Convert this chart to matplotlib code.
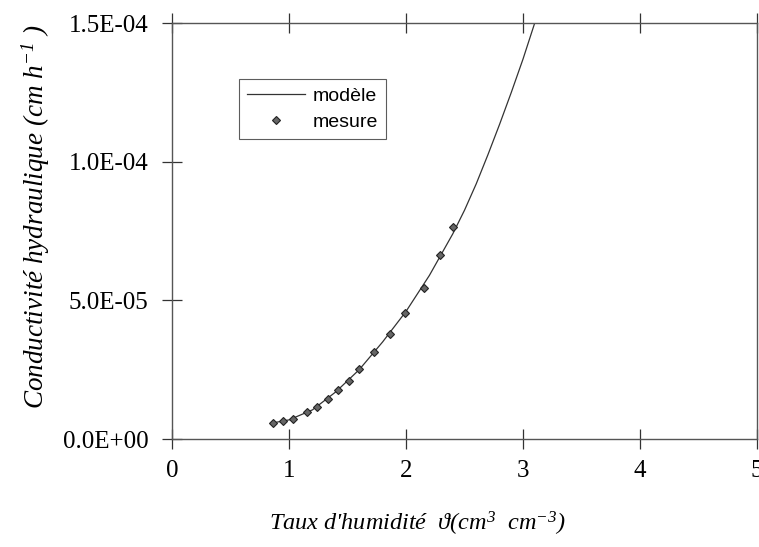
import matplotlib
matplotlib.use("Agg")
import matplotlib.pyplot as plt
from matplotlib.ticker import FuncFormatter

# measured points (theta, K)
theta_mes = [0.86, 0.95, 1.03, 1.15, 1.24, 1.33, 1.42, 1.51, 1.60, 1.73, 1.86, 1.99, 2.15, 2.29, 2.40]
k_mes = [5.8e-6, 6.5e-6, 7.2e-6, 9.7e-6, 1.15e-5, 1.44e-5, 1.77e-5, 2.09e-5, 2.52e-5,
         3.14e-5, 3.79e-5, 4.54e-5, 5.44e-5, 6.63e-5, 7.64e-5]

# model curve
theta_mod = [0.86, 1.0, 1.2, 1.4, 1.6, 1.8, 2.0, 2.2, 2.4, 2.5, 2.6, 2.7, 2.8, 2.9, 3.0, 3.1]
k_mod = [5.8e-6, 6.9e-6, 1.05e-5, 1.7e-5, 2.5e-5, 3.5e-5, 4.6e-5, 5.9e-5, 7.4e-5, 8.25e-5,
         9.2e-5, 1.025e-4, 1.135e-4, 1.25e-4, 1.37e-4, 1.5e-4]

x_ticks = [0, 1, 2, 3, 4, 5]
y_ticks = [0.0, 5e-5, 1e-4, 1.5e-4]

plt.rcParams["mathtext.fontset"] = "custom"
plt.rcParams["mathtext.rm"] = "Liberation Serif:italic"
plt.rcParams["mathtext.it"] = "Liberation Serif:italic"

serif = ["Liberation Serif", "DejaVu Serif"]

fig = plt.figure(figsize=(7.59, 5.47), dpi=100, facecolor="white")
ax = fig.add_axes([0.2266, 0.1974, 0.7708, 0.7605])

ax.plot(theta_mod, k_mod, color="#333333", linewidth=0.9, label="modèle", zorder=2)
ax.plot(theta_mes, k_mes, linestyle="none", marker="D", markersize=4.5,
        markerfacecolor="#666666", markeredgecolor="#222222", markeredgewidth=0.8,
        label="mesure", zorder=3)

ax.set_xlim(0, 5)
ax.set_ylim(0, 1.5e-4)
ax.set_xticks(x_ticks)
ax.set_yticks(y_ticks)
ax.yaxis.set_major_formatter(FuncFormatter(lambda v, _p: f"{v:.1E}"))

for lbl in ax.get_xticklabels() + ax.get_yticklabels():
    lbl.set_fontfamily(serif)
    lbl.set_fontsize(18)

ax.tick_params(axis="x", direction="inout", length=14, width=0.9, pad=8, top=True, color="#333333")
ax.tick_params(axis="y", direction="inout", length=14, width=0.9, pad=10, color="#333333")
for side in ["top", "bottom", "left", "right"]:
    ax.spines[side].set_color("#555555")
    ax.spines[side].set_linewidth(1.0)

ax.set_xlabel("Taux d'humidité  ϑ(cm$^{3}$  cm$^{-3}$)", family=serif, style="italic",
              fontsize=17.5)
ax.xaxis.set_label_coords(0.42, -0.17)
ax.set_ylabel("Conductivité hydraulique (cm h$^{-1}$ )", family=serif, style="italic",
              fontsize=19.5)
ax.yaxis.set_label_coords(-0.205, 0.534)

leg = ax.legend(loc="upper left", bbox_to_anchor=(0.1145, 0.865), borderaxespad=0,
                frameon=True, fancybox=False, edgecolor="#333333", handlelength=3.0,
                handletextpad=0.4, borderpad=0.4, labelspacing=0.45,
                prop={"family": "Liberation Sans", "size": 14})
leg.get_frame().set_linewidth(0.8)

fig.savefig("out.png", dpi=100, facecolor="white")
